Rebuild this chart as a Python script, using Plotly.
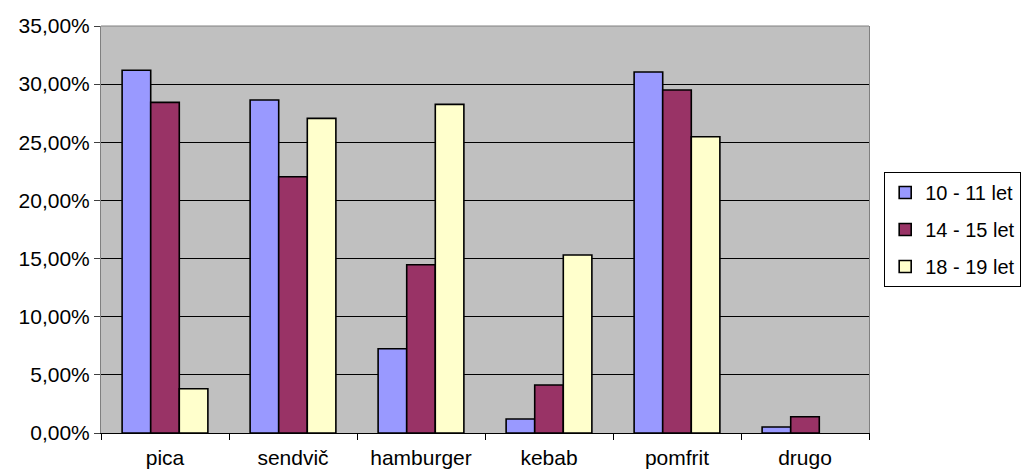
import plotly.graph_objects as go

# Food preferences by age group (share of respondents)
categories = ["pica", "sendvič", "hamburger", "kebab", "pomfrit", "drugo"]
series_names = ["10 - 11 let", "14 - 15 let", "18 - 19 let"]
age_10_11 = [0.3119, 0.2863, 0.0725, 0.0120, 0.3104, 0.0052]
age_14_15 = [0.2843, 0.2204, 0.1447, 0.0413, 0.2949, 0.0140]
age_18_19 = [0.0381, 0.2706, 0.2826, 0.1531, 0.2548, None]
colors = ["#9999FF", "#993366", "#FFFFCC"]

FONT = "Liberation Sans, Arial, sans-serif"

fig = go.Figure()
for name, vals, col in zip(series_names, [age_10_11, age_14_15, age_18_19], colors):
    fig.add_trace(go.Bar(
        x=categories, y=vals, name=name, legendgroup=name,
        marker=dict(color=col, line=dict(color="black", width=1.6)),
    ))

fig.update_layout(
    width=1021, height=476,
    margin=dict(l=101, r=152, t=26, b=43, autoexpand=False),
    paper_bgcolor="white", plot_bgcolor="#C0C0C0",
    separators=",.",
    barmode="group", bargap=0.33, bargroupgap=0,
    font=dict(family=FONT, size=21, color="black"),
    showlegend=True,
    legend=dict(
        xref="container", yref="container",
        x=0.866, xanchor="left", y=1 - 172 / 476, yanchor="top",
        bgcolor="white", bordercolor="black", borderwidth=1,
        font=dict(size=20), tracegroupgap=8, traceorder="grouped",
    ),
    # grey frame along the top of the plot area
    shapes=[dict(type="line", xref="paper", yref="paper", x0=0, x1=1, y0=1, y1=1,
                 line=dict(color="#808080", width=1))],
)
fig.update_yaxes(
    range=[0, 0.35], dtick=0.05, tickformat=".2%",
    showgrid=True, gridcolor="black", gridwidth=1,
    showline=True, linecolor="#808080", linewidth=1, mirror=True,
    ticks="outside", ticklen=6, tickcolor="#404040",
    zeroline=False, fixedrange=True, automargin=False,
)
fig.update_xaxes(
    showline=True, linecolor="black", linewidth=1, mirror=False,
    ticks="outside", ticklen=6, tickcolor="black", tickson="boundaries",
    showgrid=False, ticklabelstandoff=6, automargin=False,
)

fig.write_html("out.html")
